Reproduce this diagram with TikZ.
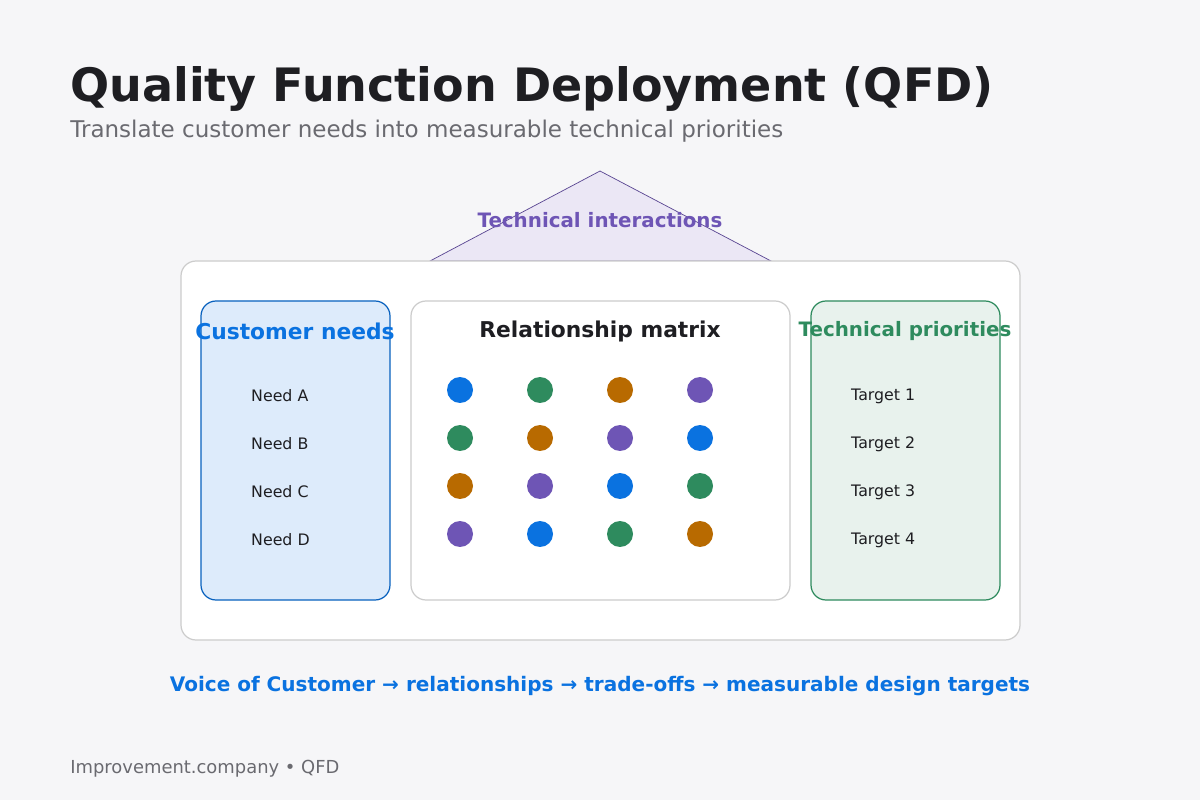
\documentclass[tikz,border=0pt]{standalone}
\usepackage{fontspec}
\setmainfont{DejaVu Sans}
\definecolor{bg}{HTML}{F6F6F8}
\definecolor{cb}{HTML}{0A72E0}
\definecolor{cg}{HTML}{2E8B5E}
\definecolor{co}{HTML}{B86A00}
\definecolor{cp}{HTML}{6E55B5}
\definecolor{gr}{HTML}{CCCCCC}
\definecolor{tx}{HTML}{1E1E22}
\definecolor{sub}{HTML}{6A6A70}
\begin{document}
\begin{tikzpicture}[x=0.02cm,y=-0.02cm,
  box/.style={draw,rounded corners=0.3cm,line width=0.7pt},
  dot/.style={circle,minimum size=0.52cm,inner sep=0pt},
  item/.style={anchor=west,font=\fontsize{9}{11}\selectfont,text=tx},
  head/.style={font=\bfseries\fontsize{11.3}{13}\selectfont},
  bighead/.style={font=\bfseries\fontsize{12.4}{14}\selectfont}]
\fill[bg] (0,0) rectangle (1200,800);
\useasboundingbox (0,0) rectangle (1200,800);
\node[anchor=base west,inner sep=0,font=\bfseries\fontsize{26.2}{31}\selectfont,text=tx] (title) at (70,102) {Quality Function Deployment (QFD)};
\node[anchor=base west,inner sep=0,font=\fontsize{13.1}{16}\selectfont,text=sub] (subtitle) at (70,138) {Translate customer needs into measurable technical priorities};
\draw[fill=cp!14,draw=cp!80!black,line width=0.4pt] (430,261) -- (600,171) -- (771,261) -- cycle;
\node[head,text=cp] (ti) at (600,220) {Technical interactions};
\draw[box,draw=gr,fill=white] (181,261) rectangle (1020,640);
\draw[box,draw=cb!85!black,fill=cb!14] (201,301) rectangle (390,600);
\draw[box,draw=gr,fill=white] (411,301) rectangle (790,600);
\draw[box,draw=cg,fill=cg!11] (811,301) rectangle (1000,600);
\node[bighead,text=cb] (cn) at (295,331) {Customer needs};
\node[bighead,text=tx] (rm) at (600,331) {Relationship matrix};
\node[head,text=cg] (tp) at (905,331) {Technical priorities};
\foreach \t [count=\i] in {A,B,C,D}
  \node[item] (n\i) at (245,348+48*\i) {Need \t};
\foreach \i in {1,...,4}
  \node[item] (t\i) at (845,348+48*\i) {Target \i};
\foreach \r/\a/\b/\c/\d in {1/cb/cg/co/cp,2/cg/co/cp/cb,3/co/cp/cb/cg,4/cp/cb/cg/co}{
  \node[dot,fill=\a] (d\r1) at (460,342+48*\r) {};
  \node[dot,fill=\b] (d\r2) at (540,342+48*\r) {};
  \node[dot,fill=\c] (d\r3) at (620,342+48*\r) {};
  \node[dot,fill=\d] (d\r4) at (700,342+48*\r) {};
}
\node[font=\bfseries\fontsize{11.4}{13}\selectfont,text=cb] (flow) at (600,686) {Voice of Customer → relationships → trade-offs → measurable design targets};
\node[anchor=base west,inner sep=0,font=\fontsize{10.2}{12}\selectfont,text=sub] (foot) at (70,773) {Improvement.company • QFD};
\end{tikzpicture}
\end{document}
